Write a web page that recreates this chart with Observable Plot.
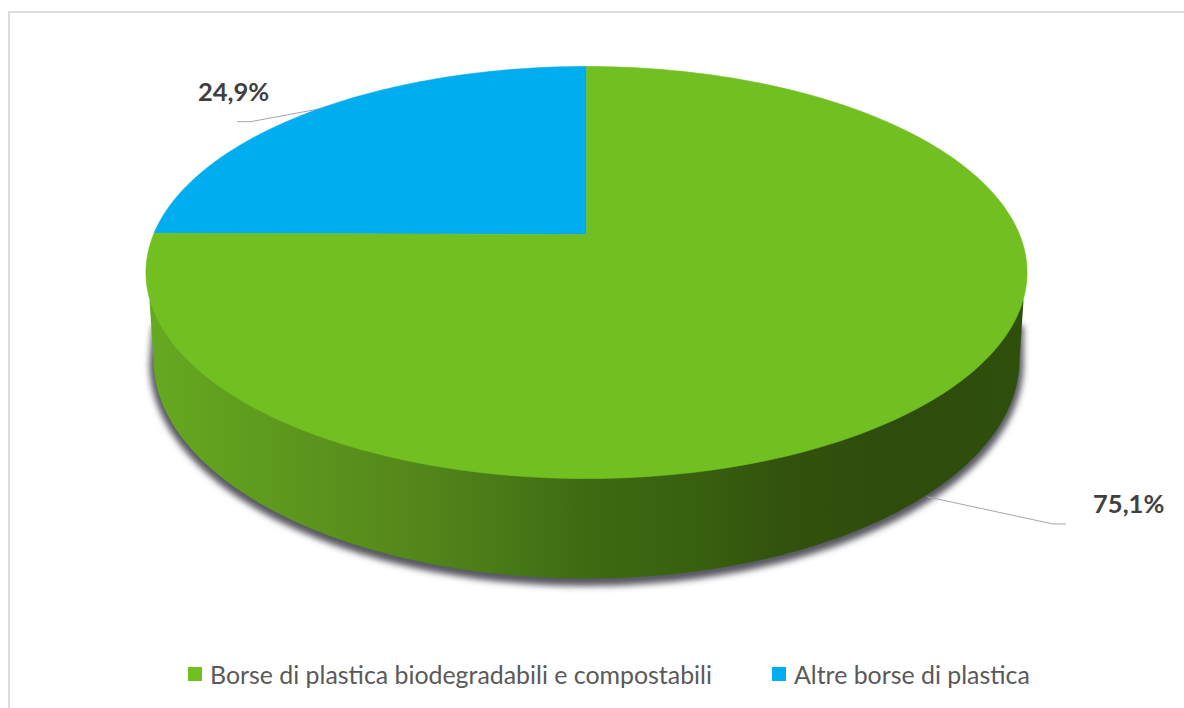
<!DOCTYPE html>
<html>
<head>
<meta charset="utf-8">
<script src="https://cdn.jsdelivr.net/npm/d3@7"></script>
<script src="https://cdn.jsdelivr.net/npm/@observablehq/plot@0.6"></script>
<style>
  html, body { margin: 0; padding: 0; background: #fff; overflow: hidden; width: 1184px; height: 708px; }
  #frame { position: absolute; left: 8px; top: 11px; width: 1180px; height: 700px; border: 2px solid #dcdcdc; box-sizing: border-box; background: #fff; }
  #frame svg { display: block; }
  #legend { position: absolute; left: 0; top: 648px; width: 1174px; font-family: Lato, sans-serif; font-size: 24.9px; color: #595959; white-space: nowrap; }
  .item { position: absolute; display: flex; align-items: center; top: 0; line-height: 26px; }
  .swatch { width: 14px; height: 14px; margin-right: 8px; }
</style>
</head>
<body>
<div id="frame"><div id="chart"></div><div id="legend"></div></div>
<script>
// Data
const categories = ["Altre borse di plastica", "Borse di plastica biodegradabili e compostabili"];
const shares = [24.9, 75.1];
const labels = ["24,9%", "75,1%"];
const colors = ["#00adee", "#72bf22"];
const legendOrder = [1, 0];

// Layout of the tilted disc (page pixels)
const W = 1174, H = 637, originX = 10, originY = 13;
const cx = 586, cy = 234, sx = 433, sy = 199, k = 0.1845;
const X = px => (px - cx) / sx;
const Y = py => (cy - py) / sy;

// A share fraction (pie running counter-clockwise from the top) projected onto the top face
const project = a => {
  const u = -Math.sin(a), v = Math.cos(a), w = 1 + k * v;
  return {x: u / w, y: v / w};
};
const tau = 2 * Math.PI;
const total = d3.sum(shares);
let acc = 0;
const slices = shares.map((s, i) => {
  const start = acc / total * tau;
  acc += s;
  const end = acc / total * tau;
  const n = Math.ceil((end - start) / tau * 360);
  const pts = [{x: 0, y: 0}];
  for (let j = 0; j <= n; j++) pts.push(project(start + (end - start) * j / n));
  pts.push({x: 0, y: 0});
  return {i, pts, mid: project((start + end) / 2)};
});

// Side wall: lower half of the bottom ellipse, closed under the top face
const wallCy = 359, wallRy = 219;
const arc = (grow, drop) => {
  const pts = [];
  for (let d = 0; d <= 180; d++) {
    const t = d / 180 * Math.PI;
    pts.push({x: X(cx - (sx + grow) * Math.cos(t)), y: Y(wallCy + drop + (wallRy + grow) * Math.sin(t))});
  }
  return pts;
};
const wall = [...arc(0, 0), {x: X(1023), y: Y(300)}, {x: X(149), y: Y(300)}];
wall.push(wall[0]);
const shadow = [...arc(4, 3.5), {x: X(1023), y: Y(325)}, {x: X(152), y: Y(325)}];
shadow.push(shadow[0]);

const gradStops = [[150,"#66a920"],[400,"#55891b"],[500,"#487a17"],[590,"#3e6a12"],[700,"#38600f"],[780,"#32520d"],[900,"#2e4c0c"],[1024,"#2f4f0c"]];

// Leader lines run from the middle of each slice's edge (on the wall base for the front slice),
// with offsets in pixels for each bend, and the label placed relative to the same anchor.
const depth = 100;
const leaders = [
  {from: slices[0].mid, bends: [[4, -1], [-66, 12], [-79, 12]], text: [-83, -17]},
  {from: {x: slices[1].mid.x, y: slices[1].mid.y - depth / sy}, bends: [[-10, 0], [115, 27], [128, 27]], text: [191, 8]}
].map((l, i) => {
  const at = ([dx, dy]) => ({x: l.from.x + dx / sx, y: l.from.y - dy / sy});
  return {pts: l.bends.map(at), t: {...at(l.text), label: labels[i]}};
});

const defs = () => {
  const d = d3.create("svg:defs");
  const g = d.append("linearGradient").attr("id", "wallGrad")
    .attr("gradientUnits", "userSpaceOnUse")
    .attr("x1", 150 - originX).attr("x2", 1024 - originX).attr("y1", 0).attr("y2", 0);
  gradStops.forEach(([p, c]) => g.append("stop").attr("offset", (p - 150) / (1024 - 150)).attr("stop-color", c));
  const f = d.append("filter").attr("id", "soft").attr("x", "-5%").attr("y", "-5%").attr("width", "110%").attr("height", "110%");
  f.append("feGaussianBlur").attr("stdDeviation", 3.2);
  return d.node();
};

const chart = Plot.plot({
  width: W, height: H,
  margin: 0,
  x: {domain: [X(originX), X(originX + W)], axis: null},
  y: {domain: [Y(originY + H), Y(originY)], axis: null},
  marks: [
    defs,
    Plot.line(shadow, {x: "x", y: "y", fill: "#45454f", stroke: "none", fillOpacity: 0.9, render: (i, s, v, d, c, n) => {
      const g = n(i, s, v, d, c);
      g.setAttribute("filter", "url(#soft)");
      return g;
    }}),
    Plot.line(wall, {x: "x", y: "y", fill: "url(#wallGrad)", stroke: "none"}),
    ...leaders.map(l => Plot.line(l.pts, {x: "x", y: "y", stroke: "#a6a6a6", strokeWidth: 1})),
    ...slices.map(s => Plot.line(s.pts, {x: "x", y: "y", fill: colors[s.i], stroke: colors[s.i], strokeWidth: 0.6})),
    Plot.text(leaders.map(l => l.t), {x: "x", y: "y", text: "label", fontFamily: "Lato, sans-serif", fontWeight: 700, fontSize: 25.5, fill: "#404040"})
  ]
});
document.getElementById("chart").appendChild(chart);

// Legend
const legend = document.getElementById("legend");
const lefts = [178, 762];
legendOrder.forEach((idx, pos) => {
  const item = document.createElement("div");
  item.className = "item";
  item.style.left = lefts[pos] + "px";
  const sw = document.createElement("span");
  sw.className = "swatch";
  sw.style.background = colors[idx];
  const tx = document.createElement("span");
  tx.textContent = categories[idx];
  item.append(sw, tx);
  legend.appendChild(item);
});
</script>
</body>
</html>
